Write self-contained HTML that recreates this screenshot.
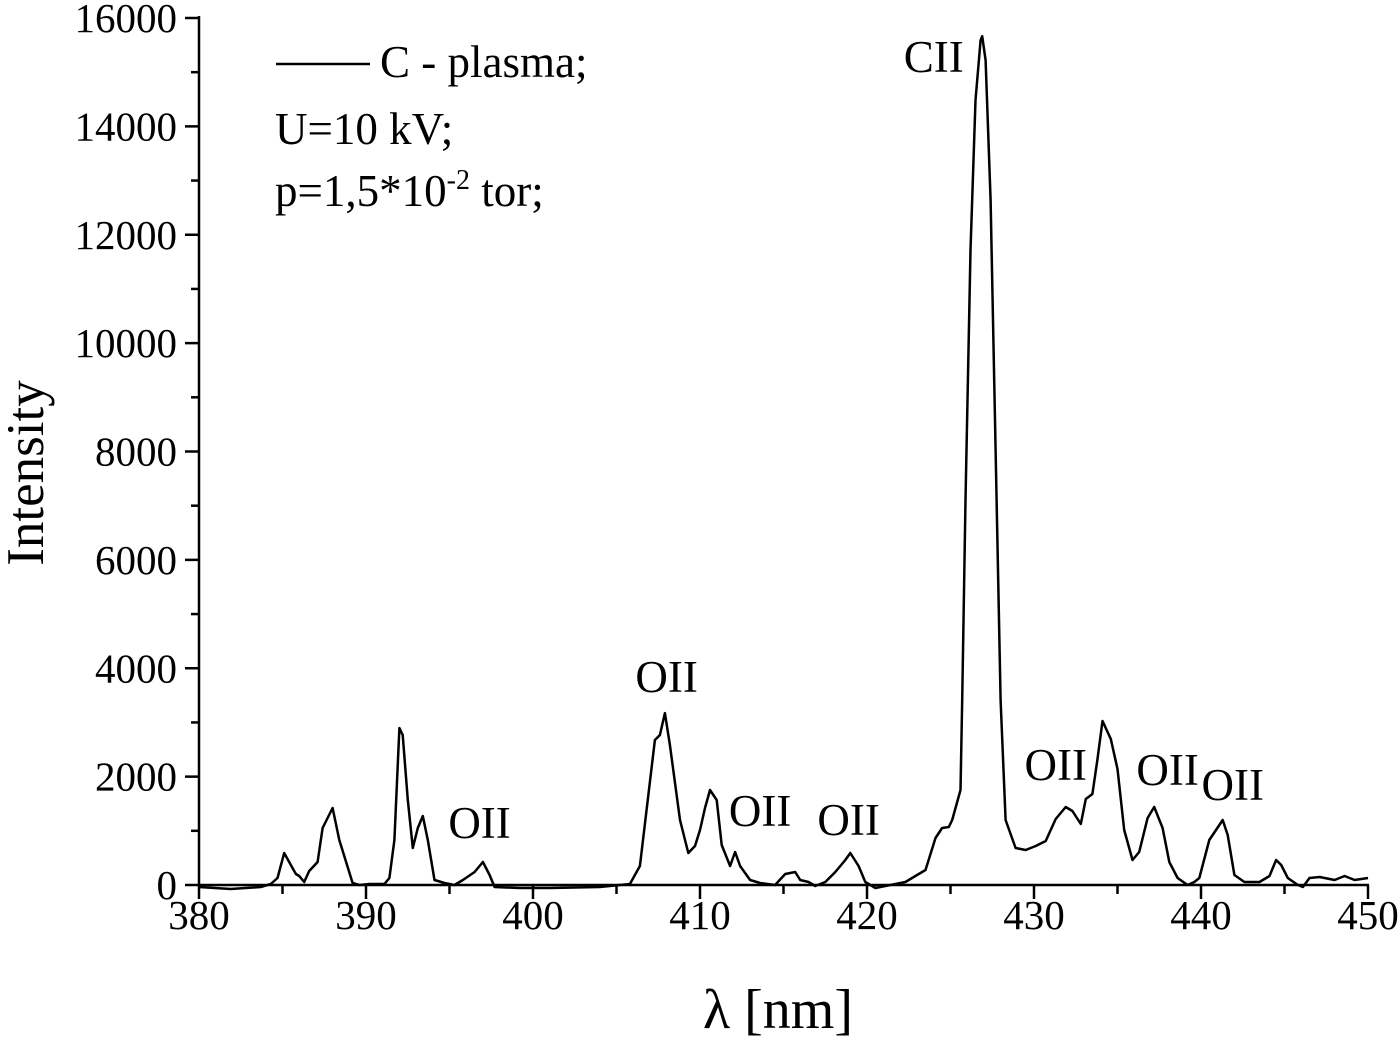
<!DOCTYPE html>
<html><head><meta charset="utf-8"><style>
body{margin:0;background:#fff}
svg text{font-family:"Liberation Serif",serif;fill:#000}
</style></head><body>
<svg id="chart" width="1400" height="1037" xmlns="http://www.w3.org/2000/svg">
<g id="axes"></g>
<path id="series" fill="none" stroke="#000" stroke-width="2.5" stroke-linejoin="round"/>
<g id="legend">
<line x1="276" y1="64" x2="370" y2="64" stroke="#000" stroke-width="2.5"/>
<text x="380" y="77" font-size="45">C - plasma;</text>
<text x="275" y="144" font-size="45">U=10 kV;</text>
<text x="275" y="206" font-size="45">p=1,5*10<tspan dy="-17" font-size="28">-2</tspan><tspan dy="17"> tor;</tspan></text>
</g>
<g id="annot" font-size="45"></g>
<text transform="translate(43,473) rotate(-90)" text-anchor="middle" font-size="53">Intensity</text>
<text x="778" y="1028" text-anchor="middle" font-size="56">λ [nm]</text>
</svg>
<script>
const wavelengths=[380.0,381.9,383.7,384.3,384.7,385.1,385.6,385.8,386.0,386.3,386.6,387.1,387.4,388.0,388.4,389.2,389.6,390.2,391.1,391.4,391.7,392.0,392.2,392.5,392.8,393.1,393.4,393.7,394.1,394.7,395.3,395.8,396.5,397.0,397.4,397.7,399.2,401.0,404.0,405.8,406.4,407.3,407.6,407.9,408.2,408.8,409.3,409.7,410.0,410.3,410.6,411.0,411.3,411.8,412.1,412.4,413.0,413.6,414.5,415.1,415.7,416.0,416.5,416.9,417.5,418.1,418.7,419.0,419.5,419.9,420.5,421.4,422.3,422.9,423.5,424.1,424.5,424.9,425.1,425.6,425.7,425.9,426.2,426.5,426.8,426.9,427.1,427.4,427.7,428.0,428.3,428.9,429.5,430.1,430.7,431.3,431.9,432.3,432.8,433.1,433.5,433.8,434.1,434.6,435.0,435.4,435.9,436.3,436.8,437.2,437.7,438.1,438.6,439.2,439.6,439.9,440.5,441.3,441.6,442.0,442.6,443.5,444.1,444.5,444.8,445.2,445.8,446.1,446.5,447.1,448.0,448.6,449.2,450.0];
const intensities=[-37,-74,-37,18,129,590,314,203,166,55,258,424,1052,1421,830,37,0,18,18,129,830,2897,2768,1568,683,1052,1273,830,92,37,0,92,240,424,185,-37,-55,-55,-37,18,350,2675,2768,3173,2583,1199,590,720,1015,1421,1753,1568,738,351,609,351,92,37,0,203,240,92,55,-18,55,240,461,590,350,55,-55,0,55,166,277,867,1052,1070,1199,1753,3413,7103,11715,14483,15590,15664,15221,12638,8025,3413,1199,683,646,720,812,1218,1439,1365,1125,1587,1679,2325,3026,2694,2140,1015,461,609,1236,1439,1052,424,129,0,55,129,830,1199,922,185,55,55,166,461,369,129,0,-37,129,148,92,166,92,129];
const xTicks=[380,390,400,410,420,430,440,450];
const yTicks=[0,2000,4000,6000,8000,10000,12000,14000,16000];
const annotLabels=["OII","OII","OII","OII","CII","OII","OII","OII"];
const annotX=[396.8,408.0,413.6,418.9,424.0,431.3,438.0,441.9];
const annotY=[870,3560,1090,920,15000,1940,1850,1570];

const X0=199,X1=1368,Y0=885,Y1=18;
const sx=v=>X0+(v-380)/(450-380)*(X1-X0);
const sy=v=>Y0-(v/16000)*(Y0-Y1);
const NS="http://www.w3.org/2000/svg";
const axes=document.getElementById('axes');
function mk(tag,attrs,parent){const e=document.createElementNS(NS,tag);for(const k in attrs)e.setAttribute(k,attrs[k]);parent.appendChild(e);return e;}
let a=mk('line',{x1:X0,y1:Y1-2,x2:X0,y2:Y0+1,stroke:'#000','stroke-width':2.5},axes);


a=mk('line',{x1:X0-1,y1:Y0,x2:X1+1,y2:Y0,stroke:'#000','stroke-width':2.5},axes);


xTicks.forEach((t,i)=>{
  let l=mk('line',{x1:sx(t),y1:Y0,x2:sx(t),y2:Y0+14,stroke:'#000','stroke-width':2.5},axes);
  
  
  if(i<xTicks.length-1){let m=mk('line',{x1:sx(t+5),y1:Y0,x2:sx(t+5),y2:Y0+9,stroke:'#000','stroke-width':2.5},axes);
  
  }
  let tx=mk('text',{x:sx(t),y:929,'text-anchor':'middle','font-size':41},axes);tx.textContent=t;
  
  
});
yTicks.forEach((t,i)=>{
  let l=mk('line',{x1:X0-14,y1:sy(t),x2:X0,y2:sy(t),stroke:'#000','stroke-width':2.5},axes);
  
  
  if(i<yTicks.length-1){let m=mk('line',{x1:X0-8,y1:sy(t+1000),x2:X0,y2:sy(t+1000),stroke:'#000','stroke-width':2.5},axes);
  
  }
  let tx=mk('text',{x:X0-22,y:sy(t)+14,'text-anchor':'end','font-size':41},axes);tx.textContent=t;
  
  
});
document.getElementById('series').setAttribute('d',wavelengths.map((w,i)=>(i?'L':'M')+sx(w).toFixed(1)+','+sy(intensities[i]).toFixed(1)).join(''));
const an=document.getElementById('annot');
annotLabels.forEach((s,i)=>{
  let t=mk('text',{x:sx(annotX[i]),y:sy(annotY[i]),'text-anchor':'middle'},an);t.textContent=s;
  
  
});
</script>
</body></html>
